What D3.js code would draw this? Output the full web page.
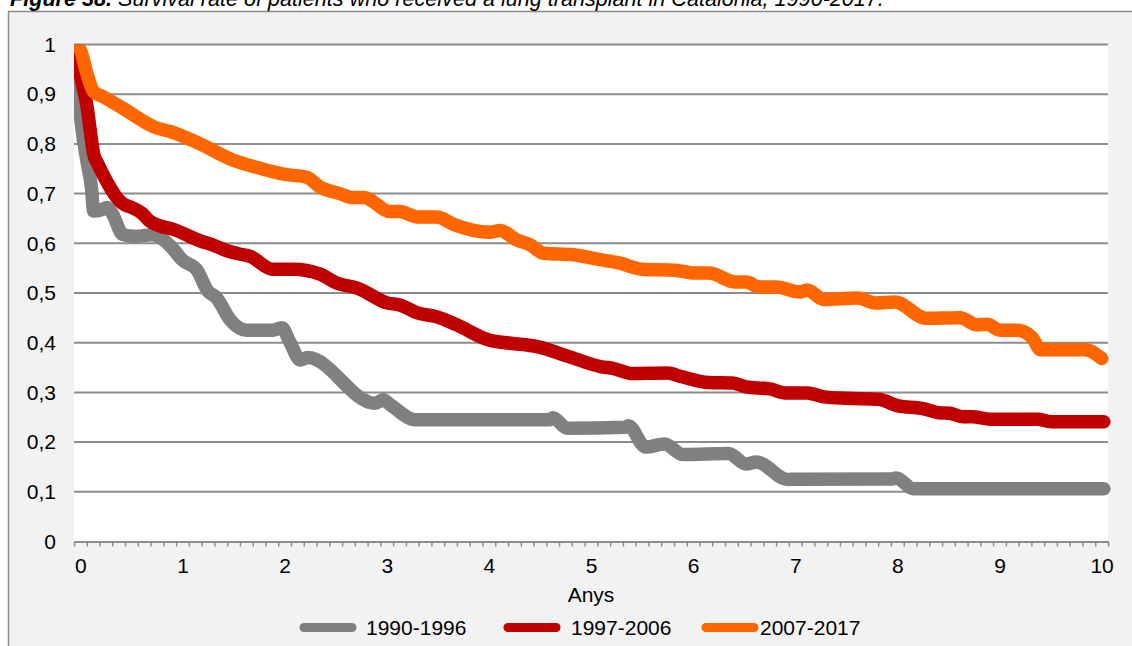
<!DOCTYPE html>
<html>
<head>
<meta charset="utf-8">
<script src="https://cdn.jsdelivr.net/npm/d3@7"></script>
<style>
  html, body { margin: 0; padding: 0; background: #ffffff; }
  svg { display: block; font-family: "Liberation Sans", Arial, sans-serif; }
</style>
</head>
<body>
<svg id="chart" width="1132" height="646"></svg>
<script>
// Survival curves, [years since transplant, proportion surviving]
const period1990_1996 = [
  [0,1.0],[0.04,0.90],[0.09,0.81],[0.13,0.76],[0.17,0.71],[0.19,0.665],[0.26,0.667],[0.32,0.672],
  [0.37,0.66],[0.47,0.618],[0.59,0.614],[0.76,0.617],[0.93,0.595],[1.05,0.566],[1.19,0.546],
  [1.29,0.505],[1.38,0.49],[1.51,0.446],[1.67,0.425],[1.92,0.425],[2.01,0.43],[2.09,0.40],
  [2.19,0.365],[2.26,0.37],[2.91,0.278],[2.99,0.285],[3.06,0.275],[3.30,0.245],[4.60,0.245],
  [4.63,0.249],[4.77,0.228],[5.33,0.23],[5.36,0.233],[5.53,0.19],[5.71,0.196],[5.89,0.175],
  [6.33,0.177],[6.50,0.156],[6.60,0.16],[6.90,0.125],[7.92,0.126],[7.95,0.128],[8.12,0.106],
  [9.96,0.106]
];
const period1997_2006 = [
  [0,1.0],[0.07,0.93],[0.13,0.87],[0.155,0.83],[0.19,0.78],[0.23,0.76],[0.31,0.727],[0.41,0.693],
  [0.47,0.68],[0.56,0.672],[0.66,0.66],[0.73,0.645],[0.83,0.635],[0.96,0.628],[1.22,0.605],
  [1.34,0.597],[1.48,0.585],[1.61,0.578],[1.70,0.574],[1.92,0.548],[2.12,0.548],[2.38,0.538],
  [2.54,0.52],[2.74,0.51],[3.03,0.48],[3.15,0.476],[3.32,0.46],[3.51,0.452],[3.70,0.436],
  [4.02,0.405],[4.22,0.399],[4.48,0.392],[4.80,0.371],[5.09,0.352],[5.22,0.348],[5.40,0.338],
  [5.74,0.339],[5.87,0.332],[6.14,0.32],[6.37,0.319],[6.50,0.311],[6.73,0.307],[6.88,0.299],
  [7.09,0.299],[7.25,0.291],[7.48,0.288],[7.78,0.286],[7.97,0.273],[8.20,0.268],[8.37,0.259],
  [8.47,0.258],[8.60,0.251],[8.69,0.251],[8.86,0.246],[9.32,0.246],[9.45,0.241],[9.96,0.241]
];
const period2007_2017 = [
  [0,1.0],[0.06,0.99],[0.12,0.945],[0.19,0.905],[0.28,0.895],[0.47,0.872],[0.80,0.832],
  [0.93,0.825],[1.22,0.80],[1.54,0.767],[1.80,0.751],[2.06,0.738],[2.25,0.733],[2.38,0.713],
  [2.57,0.70],[2.70,0.692],[2.80,0.692],[3.06,0.664],[3.15,0.664],[3.32,0.653],[3.51,0.653],
  [3.67,0.638],[4.02,0.622],[4.12,0.626],[4.28,0.607],[4.41,0.597],[4.54,0.58],[4.83,0.577],
  [5.06,0.568],[5.28,0.56],[5.49,0.548],[5.81,0.546],[6.01,0.54],[6.14,0.54],[6.40,0.522],
  [6.50,0.522],[6.63,0.512],[6.79,0.512],[7.02,0.502],[7.09,0.506],[7.25,0.487],[7.58,0.49],
  [7.75,0.48],[7.94,0.482],[8.24,0.449],[8.57,0.45],[8.73,0.436],[8.83,0.437],[8.96,0.425],
  [9.12,0.425],[9.26,0.412],[9.35,0.386],[9.78,0.386],[9.94,0.368]
];

const seriesNames = ["1990-1996", "1997-2006", "2007-2017"];
const seriesColors = ["#808080", "#c00000", "#ff6600"];
const yTickValues = [0, 0.1, 0.2, 0.3, 0.4, 0.5, 0.6, 0.7, 0.8, 0.9, 1];
const xTickLabels = ["0", "1", "2", "3", "4", "5", "6", "7", "8", "9", "10"];
const titleBold = "Figure 38.";
const titleText = " Survival rate of patients who received a lung transplant in Catalonia, 1990-2017.";
const xAxisTitle = "Anys";

const svg = d3.select("#chart");
const plot = { left: 74, right: 1108, top: 44.5, bottom: 541.5 };
const FONT = 21;

// outer chart frame
svg.append("rect")
  .attr("x", 8.5).attr("y", 11.5).attr("width", 1200).attr("height", 700)
  .attr("fill", "#f2f2f2").attr("stroke", "#8a8a8a").attr("stroke-width", 1.5);

// title (bold lead-in followed by italic text)
const title = svg.append("text")
  .attr("x", 10).attr("y", 6)
  .attr("font-size", 21.6).attr("font-style", "italic").attr("fill", "#000");
title.append("tspan").attr("font-weight", "bold").text(titleBold);
title.append("tspan").text(titleText);

// plot background
svg.append("rect")
  .attr("x", plot.left).attr("y", plot.top)
  .attr("width", plot.right - plot.left).attr("height", plot.bottom - plot.top)
  .attr("fill", "#ffffff");

// lines are clipped on the left and top edges of the plot area
svg.append("defs").append("clipPath").attr("id", "plot-clip")
  .append("rect")
  .attr("x", plot.left).attr("y", plot.top)
  .attr("width", plot.right - plot.left + 20).attr("height", plot.bottom - plot.top + 20);

const x = d3.scaleLinear().domain([0, 10]).range([plot.left, plot.right]);
const y = d3.scaleLinear().domain([0, 1]).range([plot.bottom, plot.top]);

// category axis: 81 categories of 1/8 year, labels at category centres
const nCat = 81;
const xCat = d3.scaleLinear().domain([0, nCat]).range([plot.left, plot.right]);

// horizontal gridlines
svg.append("g")
  .selectAll("line")
  .data(yTickValues.filter(v => v > 0))
  .join("line")
  .attr("x1", plot.left).attr("x2", plot.right)
  .attr("y1", d => y(d)).attr("y2", d => y(d))
  .attr("stroke", "#8c8c8c").attr("stroke-width", 2);

// y axis labels
const fmt = d => d3.format(".1~f")(d).replace(".", ",");
const yAxis = d3.axisLeft(y).tickValues(yTickValues).tickSize(0).tickPadding(18).tickFormat(fmt);
const gy = svg.append("g").attr("transform", `translate(${plot.left},0)`).call(yAxis);
gy.select(".domain").remove();
gy.selectAll("text").attr("font-size", FONT).attr("font-family", "Liberation Sans, Arial, sans-serif").attr("fill", "#000");

// x axis line with category tick marks
const xTicks = d3.axisBottom(xCat).tickValues(d3.range(0, nCat + 1)).tickSize(5).tickSizeOuter(0).tickFormat("");
const gx = svg.append("g").attr("transform", `translate(0,${plot.bottom})`).call(xTicks);
gx.select(".domain").attr("stroke", "#8c8c8c").attr("stroke-width", 2);
gx.selectAll(".tick line").attr("stroke", "#8c8c8c").attr("stroke-width", 1.5);

// x axis labels every 8 categories (1 year)
const xLabels = d3.axisBottom(xCat)
  .tickValues(xTickLabels.map((_, i) => i * 8 + 0.5))
  .tickSize(0).tickPadding(17)
  .tickFormat((d, i) => xTickLabels[i]);
const gxl = svg.append("g").attr("transform", `translate(0,${plot.bottom})`).call(xLabels);
gxl.select(".domain").remove();
gxl.selectAll("text").attr("font-size", FONT).attr("font-family", "Liberation Sans, Arial, sans-serif").attr("fill", "#000");

svg.append("text")
  .attr("x", (plot.left + plot.right) / 2).attr("y", 602)
  .attr("text-anchor", "middle").attr("font-size", FONT).text(xAxisTitle);

// survival lines
const line = d3.line().x(d => x(d[0])).y(d => y(d[1])).curve(d3.curveMonotoneX);
const allSeries = [period1990_1996, period1997_2006, period2007_2017];
svg.append("g")
  .attr("clip-path", "url(#plot-clip)")
  .selectAll("path")
  .data(allSeries)
  .join("path")
  .attr("d", line)
  .attr("fill", "none")
  .attr("stroke", (d, i) => seriesColors[i])
  .attr("stroke-width", 13.5)
  .attr("stroke-linecap", "round")
  .attr("stroke-linejoin", "round");

// legend
const legendItems = [
  { x1: 304, x2: 352, tx: 366 },
  { x1: 508, x2: 556, tx: 571 },
  { x1: 706, x2: 754, tx: 760 }
];
const lg = svg.append("g");
legendItems.forEach((it, i) => {
  lg.append("line")
    .attr("x1", it.x1).attr("x2", it.x2).attr("y1", 627.5).attr("y2", 627.5)
    .attr("stroke", seriesColors[i]).attr("stroke-width", 9).attr("stroke-linecap", "round");
  lg.append("text")
    .attr("x", it.tx).attr("y", 635).attr("font-size", FONT).text(seriesNames[i]);
});
</script>
</body>
</html>
